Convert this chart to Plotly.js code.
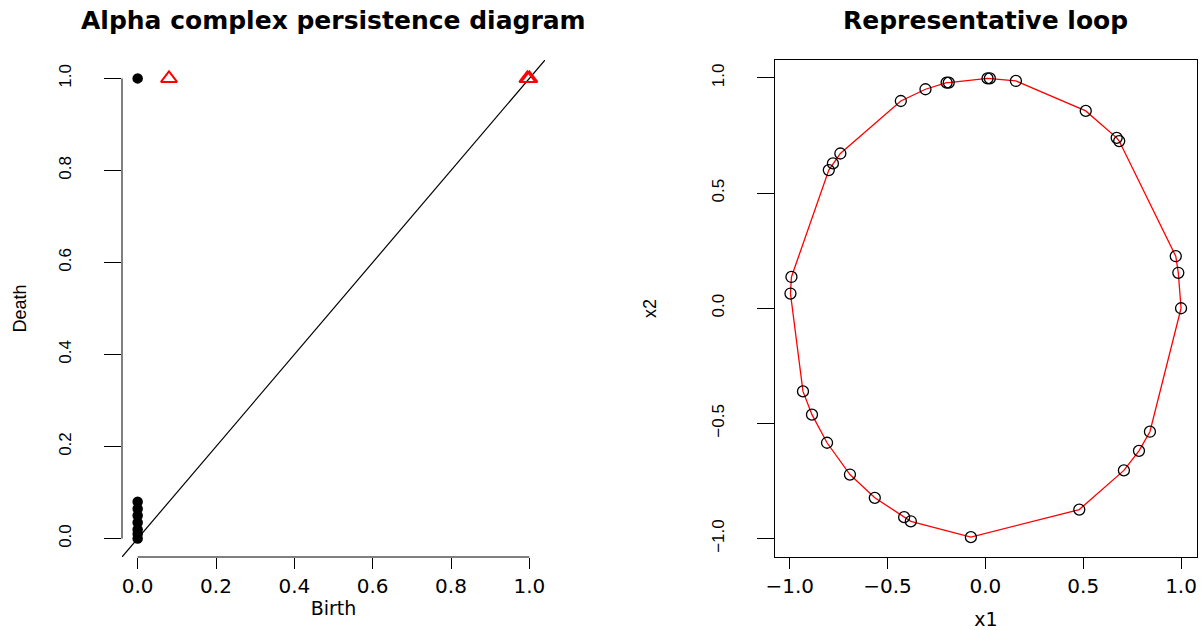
<!DOCTYPE html>
<html>
<head>
<meta charset="utf-8">
<script src="https://cdn.plot.ly/plotly-3.0.1.min.js"></script>
<style>
html,body{margin:0;padding:0;background:#ffffff;}
#chart{width:1204px;height:630px;}
</style>
</head>
<body>
<div id="chart"></div>
<script>
// ---- Persistence diagram data ----
const dim0Birth = [0, 0, 0, 0, 0, 0, 0, 0];
const dim0Death = [1.0, 0.08, 0.065, 0.05, 0.035, 0.02, 0.01, 0.0];
const dim1Birth = [0.08, 0.995, 1.0];
const dim1Death = [1.0, 1.0, 1.0];
const diagTicks = [0, 0.2, 0.4, 0.6, 0.8, 1.0];
const diagTickText = ["0.0", "0.2", "0.4", "0.6", "0.8", "1.0"];
const diagRange = [-0.04, 1.04];

// ---- Representative loop data (points in cycle order) ----
const loopX = [1.0, 0.986, 0.973, 0.684, 0.671, 0.513, 0.156, 0.023, 0.011, -0.187, -0.198, -0.306, -0.432,
               -0.741, -0.779, -0.800, -0.991, -0.996, -0.932, -0.886, -0.809, -0.692, -0.565, -0.415,
               -0.381, -0.074, 0.480, 0.708, 0.785, 0.841];
const loopY = [0.0, 0.154, 0.226, 0.726, 0.740, 0.857, 0.987, 0.998, 0.998, 0.980, 0.980, 0.951, 0.900,
               0.672, 0.629, 0.600, 0.136, 0.064, -0.361, -0.462, -0.584, -0.722, -0.823, -0.907,
               -0.925, -0.994, -0.874, -0.704, -0.619, -0.536];
const loopTicks = [-1, -0.5, 0, 0.5, 1];
const loopTickText = ["\u22121.0", "\u22120.5", "0.0", "0.5", "1.0"];
const loopXRange = [-1.075, 1.08];
const loopYRange = [-1.08, 1.078];

const W = 1204, H = 630;
const horizFont = "DejaVu Sans, Arial, sans-serif";
const rotFont = "Liberation Sans, Arial, sans-serif";

const traces = [
  {
    x: [diagRange[0], diagRange[1]], y: [diagRange[0], diagRange[1]],
    type: 'scatter', mode: 'lines', line: {color: '#000000', width: 1.2},
    xaxis: 'x', yaxis: 'y', hoverinfo: 'skip', showlegend: false
  },
  {
    x: dim0Birth, y: dim0Death, type: 'scatter', mode: 'markers',
    marker: {symbol: 'circle', size: 10.5, color: '#000000'},
    xaxis: 'x', yaxis: 'y', showlegend: false, cliponaxis: false
  },
  {
    x: dim1Birth, y: dim1Death, type: 'scatter', mode: 'markers',
    marker: {symbol: 'triangle-up-open', size: 14, color: '#FF0000', line: {color: '#FF0000', width: 2}},
    xaxis: 'x', yaxis: 'y', showlegend: false, cliponaxis: false
  },
  {
    x: loopX.concat([loopX[0]]), y: loopY.concat([loopY[0]]),
    type: 'scatter', mode: 'lines', line: {color: '#FF0000', width: 1.3},
    xaxis: 'x2', yaxis: 'y2', showlegend: false, hoverinfo: 'skip'
  },
  {
    x: loopX, y: loopY, type: 'scatter', mode: 'markers',
    marker: {symbol: 'circle-open', size: 11, color: '#000000', line: {color: '#000000', width: 1.3}},
    xaxis: 'x2', yaxis: 'y2', showlegend: false
  }
];

const commonAxis = {
  showgrid: false, zeroline: false, ticks: 'outside', tickcolor: '#000000', tickwidth: 1
};

const layout = {
  width: W, height: H,
  margin: {l: 0, r: 0, t: 0, b: 0},
  paper_bgcolor: '#ffffff', plot_bgcolor: '#ffffff',
  showlegend: false,
  xaxis: Object.assign({}, commonAxis, {
    domain: [122 / W, 545 / W], range: diagRange, showline: false,
    tickmode: 'array', tickvals: diagTicks, ticktext: diagTickText, ticklen: 11,
    tickfont: {family: horizFont, size: 20, color: '#000000'},
    title: {text: 'Birth', font: {family: horizFont, size: 19, color: '#000000'}, standoff: 4}
  }),
  yaxis: Object.assign({}, commonAxis, {
    domain: [1 - 557 / H, 1 - 60 / H], range: diagRange, showline: false,
    tickmode: 'array', tickvals: diagTicks, ticktext: diagTickText, ticklen: 17, tickangle: -90,
    ticklabelstandoff: 26,
    tickfont: {family: rotFont, size: 17, color: '#000000'},
    title: {text: 'Death', font: {family: rotFont, size: 18, color: '#000000'}, standoff: 24}
  }),
  xaxis2: Object.assign({}, commonAxis, {
    domain: [775 / W, 1196.7 / W], range: loopXRange, showline: true, mirror: true,
    linecolor: '#000000', linewidth: 1, anchor: 'y2',
    tickmode: 'array', tickvals: loopTicks, ticktext: loopTickText, ticklen: 11,
    tickfont: {family: horizFont, size: 20, color: '#000000'},
    title: {text: 'x1', font: {family: horizFont, size: 19, color: '#000000'}, standoff: 24}
  }),
  yaxis2: Object.assign({}, commonAxis, {
    domain: [1 - 557 / H, 1 - 60 / H], range: loopYRange, showline: true, mirror: true,
    linecolor: '#000000', linewidth: 1, anchor: 'x2',
    tickmode: 'array', tickvals: loopTicks, ticktext: loopTickText, ticklen: 17, tickangle: -90,
    ticklabelstandoff: 26,
    tickfont: {family: rotFont, size: 17, color: '#000000'},
    title: {text: 'x2', font: {family: rotFont, size: 18, color: '#000000'}, standoff: 47}
  }),
  shapes: [
    {type: 'line', xref: 'x', yref: 'y domain', x0: diagTicks[0], x1: diagTicks[diagTicks.length - 1],
     y0: 0, y1: 0, line: {color: '#000000', width: 1}},
    {type: 'line', xref: 'x domain', yref: 'y', x0: 0, x1: 0,
     y0: diagTicks[0], y1: diagTicks[diagTicks.length - 1], line: {color: '#000000', width: 1}}
  ],
  annotations: [
    {text: 'Alpha complex persistence diagram', xref: 'paper', yref: 'paper',
     x: (122 + 545) / 2 / W, y: 1 - 20 / H, xanchor: 'center', yanchor: 'middle', showarrow: false,
     font: {family: horizFont, size: 25, color: '#000000', weight: 'bold'}},
    {text: 'Representative loop', xref: 'paper', yref: 'paper',
     x: (775 + 1196.7) / 2 / W, y: 1 - 20 / H, xanchor: 'center', yanchor: 'middle', showarrow: false,
     font: {family: horizFont, size: 25, color: '#000000', weight: 'bold'}}
  ]
};

Plotly.newPlot('chart', traces, layout, {displayModeBar: false, responsive: false});
</script>
</body>
</html>
